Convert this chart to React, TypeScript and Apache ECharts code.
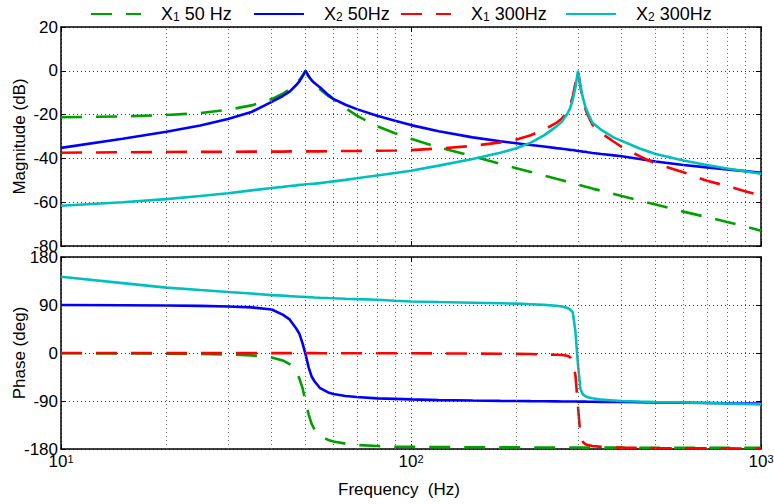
import React, { useEffect, useRef } from 'react';
import * as echarts from 'echarts';

const freq = [10, 15, 20, 25, 30, 35, 40, 43, 45, 47, 48, 49, 50, 51, 52, 53, 55, 58, 60, 65, 70, 80, 90, 100, 120, 150, 180, 200, 220, 240, 260, 270, 280, 285, 290, 295, 300, 305, 310, 315, 320, 330, 350, 380, 400, 450, 500, 600, 700, 800, 900, 1000];

const magX1_50 = [-21.2, -20.8, -20.2, -19.3, -17.8, -15.8, -12.9, -10.5, -8.4, -5.8, -4.2, -2.2, 0, -2.5, -4.5, -6, -8.5, -11.5, -13, -17, -20.5, -25.3, -28.5, -31, -35, -39, -42.5, -44.5, -46.2, -47.8, -49.3, -50, -50.7, -51, -51.3, -51.6, -52, -52.3, -52.6, -52.9, -53.2, -53.8, -54.8, -56.2, -57.2, -59.3, -61.1, -64.3, -66.8, -69, -71, -73];
const magX2_50 = [-35.2, -31, -27.8, -25, -22, -18.8, -14.2, -11.5, -9.5, -6.5, -4.8, -2.5, 0, -2.5, -4.3, -5.6, -7.6, -11, -12.8, -15.5, -17.5, -20.5, -22.8, -24.8, -27.6, -30.4, -32.2, -33.1, -33.9, -34.6, -35.3, -35.6, -35.9, -36.1, -36.2, -36.4, -36.6, -36.7, -36.9, -37, -37.2, -37.5, -38, -38.6, -39, -40.3, -41.4, -43, -44.1, -45, -45.8, -46.6];
const magX1_300 = [-37.4, -37.2, -37.1, -37, -37, -36.9, -36.9, -36.9, -36.8, -36.8, -36.8, -36.8, -36.8, -36.8, -36.8, -36.8, -36.8, -36.7, -36.7, -36.6, -36.6, -36.5, -36.4, -36.2, -35.5, -34.3, -32.7, -31.4, -29.4, -26.9, -23.8, -21.8, -18.3, -15.8, -11.5, -5.5, 0, -7.5, -13.5, -17.5, -20.3, -24.7, -28.5, -32.4, -34.8, -39, -42.4, -46.3, -50.2, -52.6, -55, -57];
const magX2_300 = [-61.6, -60, -58.6, -57.2, -55.9, -54.6, -53.5, -53, -52.6, -52.3, -52.1, -52, -51.8, -51.7, -51.6, -51.5, -51.3, -50.8, -50.5, -49.8, -49.1, -47.8, -46.7, -45.6, -43.3, -40.3, -37.4, -35.4, -32.8, -29.5, -25.5, -23.2, -19.5, -17, -13, -7.5, 0, -7, -12.5, -16.5, -19.2, -23.7, -27, -30.5, -32, -35.5, -38, -41, -43, -44.6, -45.9, -47];

const phX1_50 = [-0.5, -0.8, -1.2, -1.8, -2.8, -4.5, -8.5, -14, -21, -35, -48, -66, -92, -115, -133, -143, -155, -163, -166, -170, -172.5, -174.5, -175.5, -176, -176.4, -176.7, -176.9, -177, -177.1, -177.1, -177.2, -177.2, -177.2, -177.3, -177.3, -177.3, -177.3, -177.3, -177.4, -177.4, -177.4, -177.4, -177.5, -177.5, -177.5, -177.6, -177.6, -177.7, -177.7, -177.8, -177.8, -177.8];
const phX2_50 = [90, 89.5, 89, 88.3, 87.3, 85.5, 81.5, 72, 63, 46, 36, 18, -3, -27, -44, -53, -66, -74, -77, -80.5, -82.5, -85, -86, -87, -88.3, -89.2, -89.8, -90, -90.3, -90.5, -90.7, -90.8, -90.9, -91, -91, -91, -91.1, -91.1, -91.2, -91.2, -91.3, -91.4, -91.6, -91.8, -92, -92.4, -92.7, -93.2, -93.7, -94.2, -94.6, -95];
const phX1_300 = [-0.1, -0.1, -0.2, -0.2, -0.2, -0.3, -0.3, -0.3, -0.3, -0.3, -0.3, -0.3, -0.3, -0.3, -0.3, -0.3, -0.4, -0.4, -0.4, -0.4, -0.5, -0.5, -0.6, -0.6, -0.8, -1, -1.3, -1.6, -2, -2.5, -3.3, -3.8, -5, -8, -18, -42, -100, -157, -167, -171, -172.5, -174.5, -176, -177, -177.5, -178, -178.3, -178.6, -178.8, -178.9, -179, -179];
const phX2_300 = [143, 131, 122.5, 118, 114.5, 111.5, 108.5, 107.5, 106.7, 106, 105.6, 105.3, 105, 104.7, 104.4, 104.1, 103.6, 103, 102.7, 101.8, 101, 99.8, 98, 96.5, 95.5, 94.3, 93.2, 92.5, 91.5, 90.3, 88.5, 87.3, 84.5, 81.5, 76, 40, -22, -68, -78, -81, -83, -85, -87.5, -89, -90, -91, -91.8, -92.8, -93.8, -94.8, -95.6, -96.3];

const seriesNames = ['X1 50 Hz', 'X2 50Hz', 'X1 300Hz', 'X2 300Hz'];
const legendSub = ['1', '2', '1', '2'];
const legendRest = [' 50 Hz', ' 50Hz', ' 300Hz', ' 300Hz'];
const colors = ['#00a000', '#0000ff', '#ff0000', '#00bfbf'];
const dashed = [true, false, true, false];
const magSeries = [magX1_50, magX2_50, magX1_300, magX2_300];
const phaseSeries = [phX1_50, phX2_50, phX1_300, phX2_300];
const minorFreqs = [20, 30, 40, 50, 60, 70, 80, 90, 200, 300, 400, 500, 600, 700, 800, 900];

const FONT = "'Liberation Sans', Arial, sans-serif";
const legendLefts = [90, 253, 400, 565];

export default function App() {
  const ref = useRef<HTMLDivElement>(null);
  useEffect(() => {
    if (!ref.current) return;
    const chart = echarts.init(ref.current, undefined, { renderer: 'svg' });
    const gridLine = { show: true, lineStyle: { color: '#333', type: [1, 3] as any, width: 1 } };
    const axisLine = { show: true, onZero: false, lineStyle: { color: '#000', width: 1.5 } };
    const tick = { show: true, inside: true, length: 5, lineStyle: { color: '#000', width: 1 } };
    const xBase = {
      type: 'log' as const, logBase: 10, min: 10, max: 1000,
      axisLine, axisTick: tick,
    };
    const xLabel = {
      show: true, margin: 4,
      formatter: (v: number) => `{b|10}{s|${Math.round(Math.log10(v))}}`,
      rich: {
        b: { fontSize: 17, fontFamily: FONT, color: '#000' },
        s: { fontSize: 11, fontFamily: FONT, color: '#000', verticalAlign: 'top' },
      },
    };
    const yLabelStyle = { fontSize: 17, fontFamily: FONT, color: '#000', margin: 3 };
    const nameStyle = { fontSize: 17, fontFamily: FONT, color: '#000' };

    const series: any[] = [];
    for (let g = 0; g < 2; g++) {
      series.push({
        name: 'minor' + g, type: 'line', xAxisIndex: g * 2, yAxisIndex: g * 2, data: [], z: 1,
        silent: true,
        markLine: {
          silent: true, symbol: ['none', 'none'], label: { show: false },
          lineStyle: { color: '#666', type: [1, 3], width: 1 },
          emphasis: { disabled: true },
          data: minorFreqs.map((f) => ({ xAxis: f })),
        },
      });
    }
    for (let i = 0; i < 4; i++) {
      const ls = { color: colors[i], width: 2.6, type: dashed[i] ? [21, 14] : 'solid' };
      series.push({
        name: seriesNames[i], type: 'line', xAxisIndex: 0, yAxisIndex: 0,
        symbol: 'none', lineStyle: ls, itemStyle: { color: colors[i] },
        data: freq.map((f, k) => [f, magSeries[i][k]]), z: 3,
      });
      series.push({
        name: seriesNames[i], type: 'line', xAxisIndex: 2, yAxisIndex: 2,
        symbol: 'none', lineStyle: ls, itemStyle: { color: colors[i] },
        data: freq.map((f, k) => [f, phaseSeries[i][k]]), z: 3,
      });
    }

    const legends = seriesNames.map((n, i) => ({
      data: [n],
      left: legendLefts[i], top: 5, padding: 0,
      itemWidth: 50, itemHeight: 14,
      itemStyle: { opacity: 0 },
      formatter: (name: string) => {
        const k = seriesNames.indexOf(name);
        return `{x|X}{s|${legendSub[k]}}{x|${legendRest[k]}}`;
      },
      textStyle: {
        padding: [0, 0, 0, 15],
        fontSize: 18, fontFamily: FONT, color: '#000',
        rich: {
          x: { fontSize: 18, fontFamily: FONT, color: '#000' },
          s: { fontSize: 12, fontFamily: FONT, color: '#000', verticalAlign: 'bottom' },
        },
      },
    }));

    chart.setOption({
      animation: false,
      backgroundColor: '#fff',
      legend: legends,
      grid: [
        { left: 61, right: 13, top: 27, height: 219, outerBoundsMode: 'none', containLabel: false },
        { left: 61, right: 13, top: 257, height: 192, outerBoundsMode: 'none', containLabel: false },
      ],
      xAxis: [
        { ...xBase, gridIndex: 0, position: 'bottom', axisLabel: { show: false }, splitLine: gridLine },
        { ...xBase, gridIndex: 0, position: 'top', axisLabel: { show: false }, splitLine: { show: false } },
        {
          ...xBase, gridIndex: 1, position: 'bottom', axisLabel: xLabel, splitLine: gridLine,
          name: 'Frequency  (Hz)', nameLocation: 'middle', nameGap: 32, nameMoveOverlap: false,
          nameTextStyle: { ...nameStyle, padding: [0, 24, 0, 0] },
        },
        { ...xBase, gridIndex: 1, position: 'top', axisLabel: { show: false }, splitLine: { show: false } },
      ],
      yAxis: [
        {
          type: 'value', gridIndex: 0, position: 'left', min: -80, max: 20, interval: 20,
          axisLine, axisTick: tick, axisLabel: yLabelStyle, splitLine: gridLine,
          name: 'Magnitude (dB)', nameLocation: 'middle', nameGap: 33, nameMoveOverlap: false,
          nameTextStyle: nameStyle,
        },
        {
          type: 'value', gridIndex: 0, position: 'right', min: -80, max: 20, interval: 20,
          axisLine, axisTick: tick, axisLabel: { show: false }, splitLine: { show: false },
        },
        {
          type: 'value', gridIndex: 1, position: 'left', min: -180, max: 180, interval: 90,
          axisLine, axisTick: tick, axisLabel: yLabelStyle, splitLine: gridLine,
          name: 'Phase (deg)', nameLocation: 'middle', nameGap: 33, nameMoveOverlap: false,
          nameTextStyle: nameStyle,
        },
        {
          type: 'value', gridIndex: 1, position: 'right', min: -180, max: 180, interval: 90,
          axisLine, axisTick: tick, axisLabel: { show: false }, splitLine: { show: false },
        },
      ],
      series,
    });
    return () => chart.dispose();
  }, []);
  return <div ref={ref} style={{ position: 'absolute', left: 0, top: 0, width: 774, height: 504 }} />;
}
